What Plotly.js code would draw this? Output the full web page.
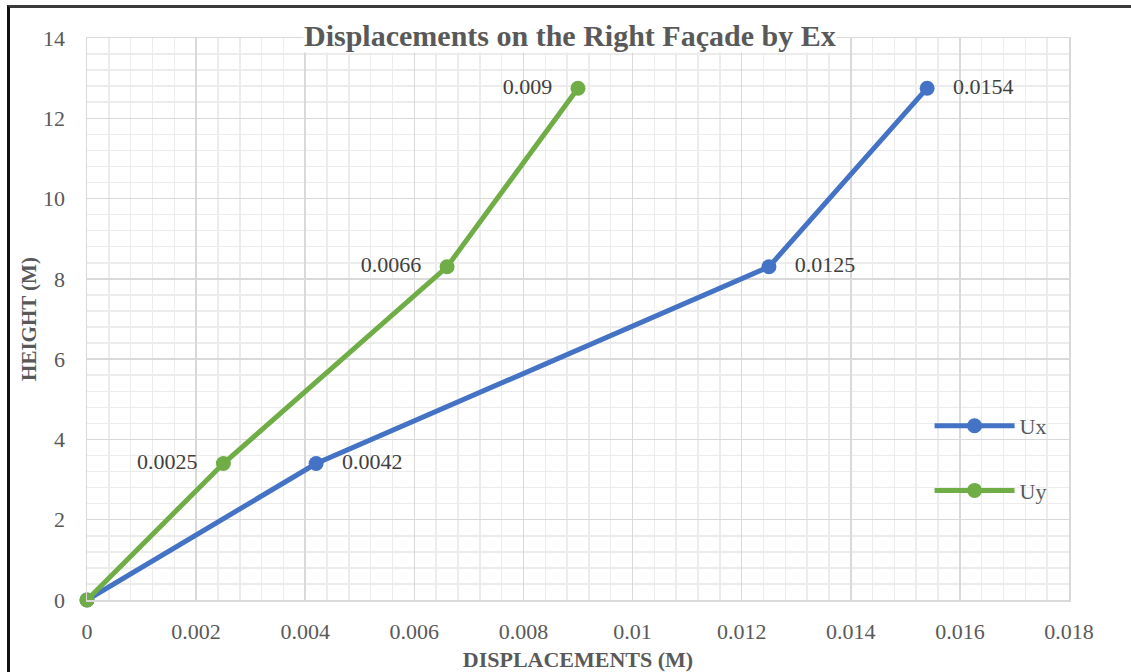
<!DOCTYPE html>
<html>
<head>
<meta charset="utf-8">
<script src="https://cdn.plot.ly/plotly-3.0.1.min.js"></script>
<style>
  html, body { margin: 0; padding: 0; background: #fff; }
  #wrap { position: relative; width: 1131px; height: 672px; overflow: hidden; }
  #chart { position: absolute; left: 0; top: 0; width: 1131px; height: 672px; }
  #frame { position: absolute; left: 7px; top: 5px; width: 1140px; height: 700px;
           border-top: 3px solid #3a3a3a; border-left: 3px solid #111; pointer-events: none; }
</style>
</head>
<body>
<div id="wrap">
  <div id="chart"></div>
  <div id="frame"></div>
</div>
<script>
// Data
const heights = [0, 3.4, 8.3, 12.75];
const ux = [0, 0.0042, 0.0125, 0.0154];
const uy = [0, 0.0025, 0.0066, 0.009];
const uxLabels = ['', '0.0042', '0.0125', '0.0154'];
const uyLabels = ['', '0.0025', '0.0066', '0.009'];
const xTicks = [0, 0.002, 0.004, 0.006, 0.008, 0.01, 0.012, 0.014, 0.016, 0.018];
const xTickText = ['0', '0.002', '0.004', '0.006', '0.008', '0.01', '0.012', '0.014', '0.016', '0.018'];
const yTicks = [0, 2, 4, 6, 8, 10, 12, 14];

const serif = 'Liberation Serif, Times New Roman, serif';
const pad = '\u2002\u2009';

const traces = [
  {
    x: ux, y: heights, name: 'Ux', type: 'scatter', mode: 'lines+markers+text',
    legendgroup: 'a',
    line: { color: '#4472C4', width: 5 },
    marker: { color: '#4472C4', size: 15 },
    text: uxLabels.map(t => t ? pad + t : ''), textposition: 'middle right',
    textfont: { family: serif, size: 22, color: '#404040' },
    cliponaxis: false
  },
  {
    x: uy, y: heights, name: 'Uy', type: 'scatter', mode: 'lines+markers+text',
    legendgroup: 'b',
    line: { color: '#70AD47', width: 5 },
    marker: { color: '#70AD47', size: 15 },
    text: uyLabels.map(t => t ? t + pad : ''), textposition: 'middle left',
    textfont: { family: serif, size: 22, color: '#404040' },
    cliponaxis: false
  }
];

const layout = {
  width: 1131, height: 672,
  margin: { l: 87, r: 62, t: 38, b: 72, pad: 0 },
  paper_bgcolor: '#ffffff', plot_bgcolor: '#ffffff',
  font: { family: serif, color: '#595959', size: 22 },
  showlegend: true,
  legend: {
    x: 0.858, y: 0.347, xanchor: 'left', yanchor: 'top',
    bgcolor: 'rgba(0,0,0,0)', tracegroupgap: 33, traceorder: 'grouped',
    itemwidth: 80,
    font: { family: serif, size: 22, color: '#595959' }
  },
  xaxis: {
    range: [0, 0.018], tickvals: xTicks, ticktext: xTickText,
    showgrid: true, gridcolor: '#d9d9d9', gridwidth: 1.5,
    minor: { dtick: 0.0004, showgrid: true, gridcolor: '#ececec', gridwidth: 1.5 },
    showline: true, linecolor: '#d9d9d9', linewidth: 1.5, mirror: true,
    zeroline: false,
    ticks: 'outside', ticklen: 11, tickcolor: 'rgba(0,0,0,0)',
    tickfont: { family: serif, size: 22, color: '#595959' },
    title: { text: '<b>DISPLACEMENTS (M)</b>', font: { family: serif, size: 22, color: '#595959' }, standoff: 11 },
    fixedrange: true
  },
  yaxis: {
    range: [0, 14], tickvals: yTicks,
    showgrid: true, gridcolor: '#d9d9d9', gridwidth: 1.5,
    minor: { dtick: 0.4, showgrid: true, gridcolor: '#ececec', gridwidth: 1.5 },
    showline: true, linecolor: '#d9d9d9', linewidth: 1.5, mirror: true,
    zeroline: false,
    ticks: 'outside', ticklen: 16, tickcolor: 'rgba(0,0,0,0)',
    tickfont: { family: serif, size: 22, color: '#595959' },
    title: { text: '<b>HEIGHT (M)</b>', font: { family: serif, size: 21, color: '#595959' }, standoff: 0 },
    fixedrange: true
  },
  annotations: [
    {
      text: '<b>Displacements on the Right Façade by Ex</b>',
      xref: 'paper', yref: 'paper', x: 0.492, y: 1.005, yanchor: 'middle', xanchor: 'center',
      showarrow: false, bgcolor: '#ffffff', borderpad: 0,
      font: { family: serif, size: 30, color: '#595959' }
    }
  ]
};

Plotly.newPlot('chart', traces, layout, { displayModeBar: false, staticPlot: true });
</script>
</body>
</html>
